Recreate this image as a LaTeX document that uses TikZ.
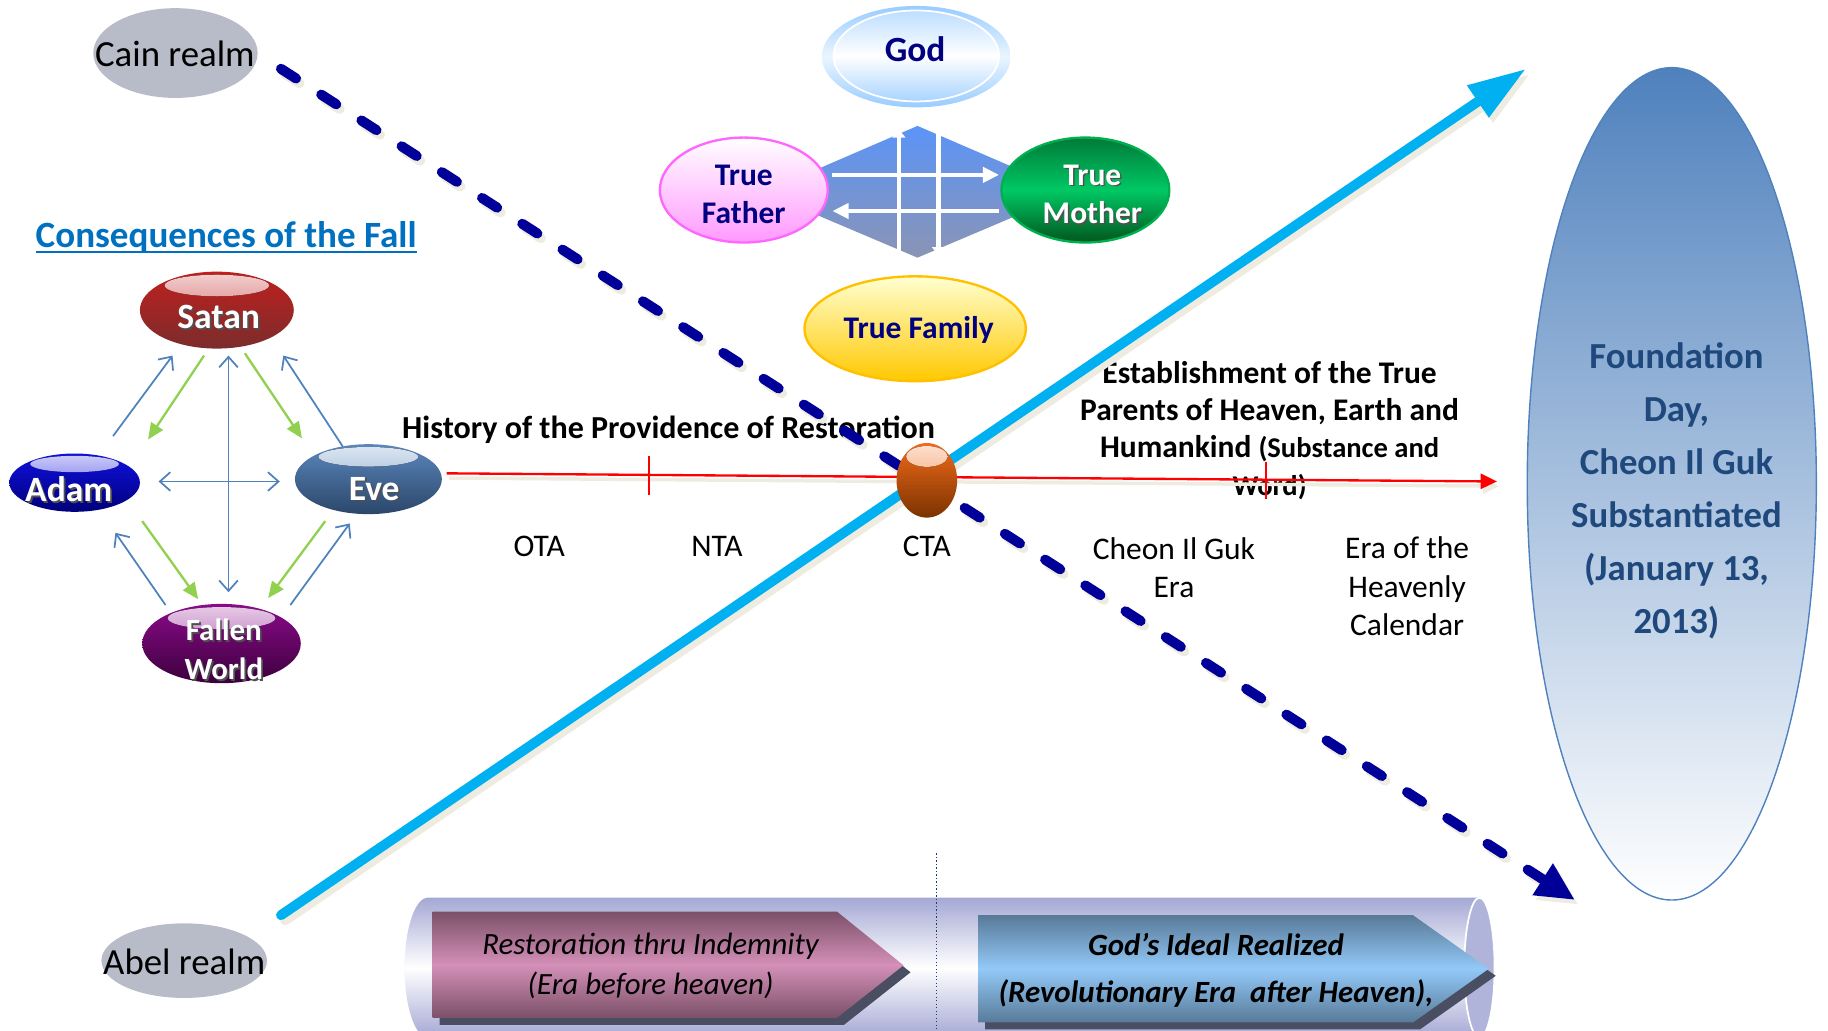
\documentclass[tikz,border=0pt]{standalone}
\usepackage{fontspec}
\setmainfont{Carlito}
\usetikzlibrary{shapes.geometric,arrows.meta,calc}
\definecolor{cyanline}{HTML}{00B0F0}
\definecolor{shadowc}{HTML}{EEECE1}
\definecolor{dashblue}{HTML}{000099}
\definecolor{arrblue}{HTML}{4F81BD}
\definecolor{arrgreen}{HTML}{92D050}
\definecolor{titleblue}{HTML}{0070C0}
\definecolor{navytxt}{HTML}{000080}
\definecolor{realmgray}{HTML}{B8BCC8}
\definecolor{founddark}{HTML}{4F81BD}
\definecolor{foundtext}{HTML}{1F497D}
\definecolor{godblue}{HTML}{99CCFF}
\definecolor{godpale}{HTML}{EAF5FF}
\definecolor{cylc}{HTML}{A4A8D4}
\definecolor{capc}{HTML}{B0B4DA}
\definecolor{pentshadow}{HTML}{4A4E62}
\definecolor{pinkdark}{HTML}{7B5068}
\definecolor{pinklight}{HTML}{D490B8}
\definecolor{bluedark}{HTML}{587A98}
\definecolor{bluelight}{HTML}{93C9F8}
\definecolor{dotc}{HTML}{1F3A6E}
\definecolor{diamtop}{HTML}{5B94F8}
\definecolor{diambot}{HTML}{8A94B4}
\definecolor{fatherborder}{HTML}{FF66FF}
\definecolor{fatherpink}{HTML}{FF99FF}
\definecolor{motherborder}{HTML}{00B050}
\definecolor{mothertop}{HTML}{007A38}
\definecolor{mothermid}{HTML}{00C864}
\definecolor{motherbot}{HTML}{00561E}
\definecolor{familyborder}{HTML}{FFC000}
\definecolor{familytop}{HTML}{FFFFD0}
\definecolor{familybot}{HTML}{FFC800}
\definecolor{satantop}{HTML}{C0201E}
\definecolor{satanbot}{HTML}{7B2C2C}
\definecolor{adamtop}{HTML}{1010E0}
\definecolor{adambot}{HTML}{00007A}
\definecolor{evetop}{HTML}{5B87BD}
\definecolor{evebot}{HTML}{2B4669}
\definecolor{fallentop}{HTML}{8B0A8B}
\definecolor{fallenbot}{HTML}{3C003C}
\definecolor{ctatop}{HTML}{F26A1B}
\definecolor{ctabot}{HTML}{7A3300}
\definecolor{txtshadow}{HTML}{505050}
\begin{document}
\begin{tikzpicture}[x=1pt,y=-1pt,
  every node/.style={inner sep=0pt,outer sep=0pt},
  realm/.style={ellipse,fill=realmgray},
  realmtext/.style={font=\fontsize{31.6}{38}\selectfont},
  gloss/.style n args={4}{ellipse,minimum width=2*#3,minimum height=2*#4,
     top color=#1,bottom color=#2,
     path picture={\fill[top color=#1!20!white,bottom color=#1!80!white]
       ($(path picture bounding box.north)!0.36!(path picture bounding box.center)$)
       ellipse [x radius=0.68*#3,y radius=0.28*#4];}},
  balltext/.style={text=white,font=\bfseries\fontsize{30.5}{33}\selectfont,align=center},
  ballshadow/.style={text=txtshadow,font=\bfseries\fontsize{30.5}{33}\selectfont,align=center},
  parenttext/.style={font=\bfseries\fontsize{27}{33}\selectfont,align=center},
  bluearr/.style={draw=arrblue,line width=1.5,-{Straight Barb[length=9pt,width=16pt]}},
  bluedbl/.style={draw=arrblue,line width=1.5,{Straight Barb[length=9pt,width=16pt]}-{Straight Barb[length=9pt,width=16pt]}},
  greenarr/.style={draw=arrgreen,line width=2,-{Triangle[length=14pt,width=12pt]}},
  whitearr/.style={draw=white,line width=4,-{Triangle[length=14pt,width=13pt]}},
  eratext/.style={font=\fontsize{27}{33}\selectfont},
  bannertext/.style={font=\itshape\fontsize{26.5}{34}\selectfont,align=center},
]
\path[use as bounding box] (0,0) rectangle (1568,883.5);
\clip (0,0) rectangle (1568,883.5);

% ---- Foundation Day ellipse
\node[ellipse,minimum width=248,minimum height=714,draw=founddark,line width=1.2,
      top color=founddark,bottom color=white] (found) at (1434,415) {};
\node[font=\bfseries\fontsize{31.5}{45.6}\selectfont,text=foundtext,align=center] (foundtxt) at (1438,421)
  {Foundation\\Day,\\Cheon Il Guk\\Substantiated\\(January 13,\\2013)};

% ---- bottom banner (cylinder)
\path[top color=cylc,bottom color=cylc,middle color=white]
  (367,770) -- (1269,770) arc[start angle=-90,end angle=90,x radius=13,y radius=60]
  -- (367,890) arc[start angle=90,end angle=270,x radius=20,y radius=60] -- cycle;
\draw[white,line width=1.5,fill=capc] (1269,830) ellipse [x radius=13,y radius=60];

\fill[pentshadow,shift={(6,6)}] (371,782) -- (718,782) -- (775,828) -- (718,873) -- (371,873) -- cycle;
\path[top color=pinkdark,bottom color=pinkdark,middle color=pinklight]
  (371,782) -- (718,782) -- (775,828) -- (718,873) -- (371,873) -- cycle;
\fill[pentshadow,shift={(6,6)}] (839,785) -- (1212,785) -- (1277,831) -- (1212,877) -- (839,877) -- cycle;
\path[top color=bluedark,bottom color=bluedark,middle color=bluelight]
  (839,785) -- (1212,785) -- (1277,831) -- (1212,877) -- (839,877) -- cycle;

\node[bannertext] (resttxt) at (558,828.4) {Restoration thru Indemnity\\(Era before heaven)};
\node[bannertext,font=\bfseries\itshape\fontsize{26.5}{40}\selectfont] (idealtxt) at (1043,832.4)
  {God’s Ideal Realized\\(Revolutionary Era\ \ after Heaven),};

\coordinate (dottop) at (803,732);
\coordinate (dotbot) at (803,884);
\draw[dotc,dotted,line width=1] (dottop) -- (dotbot);

% ---- Cain / Abel realms
\node[realm,minimum width=141,minimum height=77] (cain) at (150.5,45.5) {};
\node[realmtext,anchor=base] (caintxt) at (150,57) {Cain realm};
\node[realm,minimum width=142,minimum height=64] (abel) at (158,824) {};
\node[realmtext,anchor=base] (abeltxt) at (158,835.5) {Abel realm};

% ---- God / True Parents group
\path[top color=diamtop,bottom color=diambot] (655,165) -- (787,108) -- (919,165) -- (787,221) -- cycle;
\coordinate (wa1s) at (714,150); \coordinate (wa1e) at (857,150);
\coordinate (wa2s) at (857,181); \coordinate (wa2e) at (714,181);
\coordinate (wv1s) at (771,216); \coordinate (wv1e) at (771,111);
\coordinate (wv2s) at (805,114); \coordinate (wv2e) at (805,219);
\draw[whitearr] (wa1s) -- (wa1e);
\draw[whitearr] (wa2s) -- (wa2e);
\draw[whitearr,-{Triangle[length=7pt,width=11pt]}] (wv1s) -- (wv1e);
\draw[whitearr,-{Triangle[length=7pt,width=11pt]}] (wv2s) -- (wv2e);

\node[ellipse,minimum width=162,minimum height=87,top color=godblue,bottom color=godblue,middle color=godpale] (godring) at (786,48.6) {};
\node[ellipse,minimum width=142,minimum height=78,draw=white,line width=1.5,
      top color=godblue!65!white,bottom color=godblue!85!white,middle color=white] (god) at (786,48) {};
\node[anchor=base,font=\bfseries\fontsize{30.4}{33}\selectfont,text=navytxt] (godtxt) at (785,53) {God};

\node[ellipse,minimum width=144,minimum height=90,draw=fatherborder,line width=2,
      top color=white,bottom color=fatherpink] (father) at (638,163) {};
\node[parenttext,text=navytxt] (fathertxt) at (638,166.7) {True\\Father};
\node[ellipse,minimum width=144,minimum height=90,draw=motherborder,line width=2,
      top color=mothertop,bottom color=motherbot,middle color=mothermid] (mother) at (931,163) {};
\node[parenttext,text=txtshadow] (mothershd) at (938.2,168.2) {True\\Mother};
\node[parenttext,text=white] (mothertxt) at (937,166.7) {True\\Mother};
\node[ellipse,minimum width=190,minimum height=90,draw=familyborder,line width=2,
      top color=familytop,bottom color=familybot] (family) at (785,282) {};
\node[parenttext,anchor=base,text=navytxt] (familytxt) at (788,290) {True Family};

% ---- Consequences of the Fall
\node[anchor=base,font=\bfseries\fontsize{31.8}{38}\selectfont,text=titleblue] (title) at (194,212) {Consequences of the Fall};
\draw[titleblue,line width=2] ($(title.base west)+(0,4)$) -- ($(title.base east)+(0,4)$);

\node[gloss={satantop}{satanbot}{66}{33}] (satan) at (186,266) {};
\node[ballshadow,anchor=base] (satanshd) at (189,283.5) {Satan};
\node[balltext,anchor=base] (satantxt) at (187.5,282) {Satan};
\node[gloss={adamtop}{adambot}{56}{25}] (adam) at (64,414) {};
\node[ballshadow,anchor=base] (adamshd) at (60.5,432) {Adam};
\node[balltext,anchor=base] (adamtxt) at (59,430.5) {Adam};
\node[gloss={evetop}{evebot}{63}{30}] (eve) at (316,411) {};
\node[ballshadow,anchor=base] (eveshd) at (322.5,430.5) {Eve};
\node[balltext,anchor=base] (evetxt) at (321,429) {Eve};
\node[gloss={fallentop}{fallenbot}{68}{34}] (fallen) at (190,552) {};
\node[ballshadow,font=\bfseries\fontsize{26.5}{33}\selectfont] (fallenshd) at (193.5,558.5) {Fallen\\World};
\node[balltext,font=\bfseries\fontsize{26.5}{33}\selectfont] (fallentxt) at (192,557) {Fallen\\World};

\coordinate (b1s) at (97,374);  \coordinate (b1e) at (148,305);
\coordinate (g1s) at (175,305); \coordinate (g1e) at (127,377);
\coordinate (vs) at (196,305);  \coordinate (ve) at (196,508);
\coordinate (g2s) at (210,303); \coordinate (g2e) at (259,376);
\coordinate (b2s) at (294,383); \coordinate (b2e) at (243,305);
\coordinate (hs) at (136,413);  \coordinate (he) at (240,413);
\coordinate (g3s) at (122,447); \coordinate (g3e) at (170,514);
\coordinate (b3s) at (142,519); \coordinate (b3e) at (99,457);
\coordinate (g4s) at (279,447); \coordinate (g4e) at (230,513);
\coordinate (b4s) at (249,519); \coordinate (b4e) at (300,449);
\draw[bluearr] (b1s) -- (b1e);
\draw[greenarr] (g1s) -- (g1e);
\draw[bluedbl] (vs) -- (ve);
\draw[greenarr] (g2s) -- (g2e);
\draw[bluearr] (b2s) -- (b2e);
\draw[bluedbl] (hs) -- (he);
\draw[greenarr] (g3s) -- (g3e);
\draw[bluearr] (b3s) -- (b3e);
\draw[greenarr] (g4s) -- (g4e);
\draw[bluearr] (b4s) -- (b4e);

% ---- timeline texts
\node[anchor=base,font=\bfseries\fontsize{27.5}{33}\selectfont] (history) at (573.5,376) {History of the Providence of Restoration};
\node[eratext,anchor=base] (ota) at (462.5,477.5) {OTA};
\node[eratext,anchor=base] (nta) at (615,477.5) {NTA};
\node[eratext,anchor=base] (ctatxt) at (795,477.5) {CTA};
\node[eratext,align=center] (cigera) at (1007,487) {Cheon Il Guk\\Era};
\node[eratext,align=center] (heavcal) at (1207,503) {Era of the\\Heavenly\\Calendar};
\node[font=\bfseries\fontsize{27}{32}\selectfont,align=center] (establish) at (1089,369)
  {Establishment of the True\\Parents of Heaven, Earth and\\Humankind {\fontsize{24.5}{32}\selectfont(Substance and}\\{\fontsize{24.5}{32}\selectfont Word)}};

% ---- red timeline
\coordinate (tlstart) at (383,406);
\coordinate (tlend) at (1284,413);
\draw[shadowc,line width=3,-{Triangle[length=14pt,width=13pt]}] ($(tlstart)+(2,4)$) -- ($(tlend)+(2,4)$);
\draw[red,line width=2,-{Triangle[length=14pt,width=13pt]}] (tlstart) -- (tlend);
\coordinate (tk1a) at (557,391); \coordinate (tk1b) at (557,425);
\coordinate (tk2a) at (1086,396); \coordinate (tk2b) at (1086,428);
\draw[red,line width=1.5] (tk1a) -- (tk1b);
\draw[red,line width=1.5] (tk2a) -- (tk2b);

% ---- cyan (Abel) arrow
\coordinate (cyanstart) at (241,785);
\coordinate (cyanend) at (1309,59);
\draw[shadowc,line width=8.5,line cap=round,-{Triangle[length=50pt,width=31pt]}] ($(cyanstart)+(3.5,4.5)$) -- ($(cyanend)+(3.5,4.5)$);
\draw[cyanline,line width=8.5,line cap=round,-{Triangle[length=50pt,width=31pt]}] (cyanstart) -- (cyanend);

% ---- dashed (Cain) arrow
\coordinate (dashstart) at (241,59);
\coordinate (dashend) at (1351,772);
\draw[shadowc,line width=8.6,line cap=round,dash pattern=on 15.4pt off 25.6pt,-{Triangle[length=33pt,width=30pt]}] ($(dashstart)+(3,4)$) -- ($(dashend)+(3,4)$);
\draw[dashblue,line width=8.6,line cap=round,dash pattern=on 15.4pt off 25.6pt,-{Triangle[length=33pt,width=30pt]}] (dashstart) -- (dashend);

% ---- CTA ball
\node[gloss={ctatop}{ctabot}{26}{32}] (ctaball) at (795,412) {};
\end{tikzpicture}
\end{document}
